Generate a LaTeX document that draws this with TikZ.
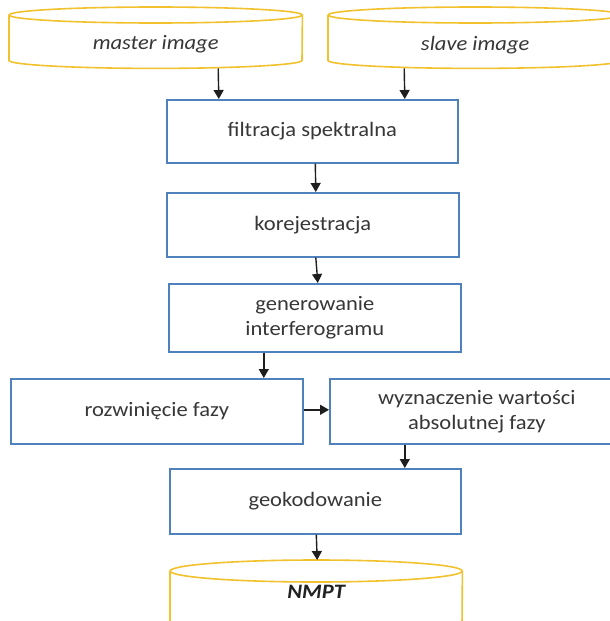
\documentclass[tikz,border=0pt]{standalone}
\usepackage{fontspec}
\setmainfont[FakeStretch=1.1]{Carlito}
\usetikzlibrary{arrows.meta}
\definecolor{boxblue}{RGB}{79,129,189}
\definecolor{drumyellow}{RGB}{242,194,46}
\definecolor{txt}{RGB}{55,55,55}
\definecolor{arrowc}{RGB}{30,30,30}
\tikzset{
  proc/.style={draw=boxblue, line width=1.6pt, fill=white, text=txt,
    align=center, inner sep=0pt, anchor=north west,
    font=\fontsize{20.5}{25}\selectfont},
  drumtext/.style={inner sep=0pt, anchor=north west, text=txt,
    font=\fontsize{20.5}{25}\selectfont\itshape},
  drumline/.style={draw=drumyellow, line width=1.6pt, fill=white},
  flow/.style={draw=arrowc, line width=1.4pt,
    -{Triangle[length=9pt,width=10pt]}},
}
\begin{document}
\begin{tikzpicture}[x=1pt,y=-1pt]
\useasboundingbox (0,0) rectangle (610,621);

% --- input databases (cylinders) ---
\node[drumtext, minimum width=293pt, minimum height=53pt] (master) at (9,15) {};
\draw[drumline] (master.north west) -- ([yshift=8pt]master.south west)
  arc[start angle=180, end angle=360, x radius=146.5pt, y radius=8pt]
  -- (master.north east);
\draw[drumline] (master.north) ellipse[x radius=146.5pt, y radius=8pt];
\node[text=txt, font=\fontsize{20.5}{25}\selectfont\itshape] at ([yshift=-3pt]master.center) {master image};

\node[drumtext, minimum width=294pt, minimum height=53pt] (slave) at (328,15) {};
\draw[drumline] (slave.north west) -- ([yshift=8pt]slave.south west)
  arc[start angle=180, end angle=360, x radius=147pt, y radius=8pt]
  -- (slave.north east);
\draw[drumline] (slave.north) ellipse[x radius=147pt, y radius=8pt];
\node[text=txt, font=\fontsize{20.5}{25}\selectfont\itshape] at ([yshift=-3pt]slave.center) {slave image};

% --- processing steps ---
\node[proc, minimum width=291pt, minimum height=63pt] (filtr) at (166,99) {filtracja spektralna};
\node[proc, minimum width=292pt, minimum height=64pt] (korej) at (166,192) {korejestracja};
\node[proc, minimum width=292pt, minimum height=68pt] (gener) at (168,283) {generowanie\\interferogramu};
\node[proc, minimum width=292pt, minimum height=65pt] (rozw) at (10,378) {rozwinięcie fazy};
\node[proc, minimum width=294pt, minimum height=65pt] (wyzn) at (329,378) {wyznaczenie wartości\\absolutnej fazy};
\node[proc, minimum width=291pt, minimum height=65pt] (geok) at (169,468) {geokodowanie};

% --- output database ---
\node[drumtext, minimum width=292pt, minimum height=42pt] (nmpt) at (170,571) {};
\draw[drumline] (nmpt.north west) -- ([yshift=-12pt]nmpt.south west)
  arc[start angle=180, end angle=360, x radius=146pt, y radius=11pt]
  -- (nmpt.north east);
\draw[drumline] (nmpt.north) ellipse[x radius=146pt, y radius=11pt];
\node[text=txt!60!black, font=\fontsize{20.5}{25}\selectfont\bfseries\itshape] at (nmpt.center) {NMPT};

% --- connectors ---
\draw[flow] ([xshift=62.5pt]master.south) -- ([xshift=-93.5pt]filtr.north);
\draw[flow] ([xshift=-71pt]slave.south) -- ([xshift=92.5pt]filtr.north);
\draw[flow] ([xshift=3pt]filtr.south) -- ([xshift=3pt]korej.north);
\draw[flow] ([xshift=3pt]korej.south) -- ([xshift=3pt]gener.north);
\draw[flow] ([xshift=-51pt]gener.south) -- ([xshift=107pt]rozw.north);
\draw[flow] ([yshift=1.5pt]rozw.east) -- ([yshift=1.5pt]wyzn.west);
\draw[flow] ([xshift=-72pt]wyzn.south) -- ([xshift=89.5pt]geok.north);
\draw[flow] ([xshift=1pt]geok.south) -- ([xshift=1pt,yshift=11pt]nmpt.north);
\end{tikzpicture}
\end{document}
